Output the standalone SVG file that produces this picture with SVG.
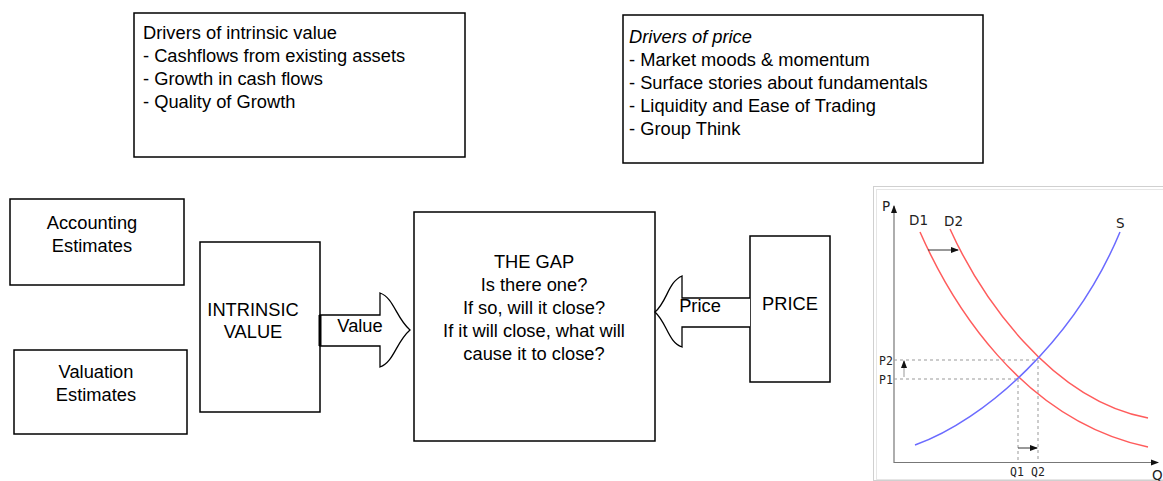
<svg xmlns="http://www.w3.org/2000/svg" width="1163" height="481" viewBox="0 0 1163 481">
<style>
.box{fill:#fff;stroke:#000;stroke-width:1.5}
.t{font-family:"Liberation Sans",Arial,sans-serif;font-size:18.3px;fill:#000}
.c{text-anchor:middle}
.arr{fill:#fff;stroke:#000;stroke-width:1.3}
.lbl{font-family:"DejaVu Sans",sans-serif;font-size:13.5px;fill:#222}
.sm{font-family:"DejaVu Sans Mono","DejaVu Sans",monospace;font-size:11.5px;fill:#222}
.dash{stroke:#999;stroke-width:1;stroke-dasharray:3,3;fill:none}
.dem{fill:none;stroke:#ff5c5c;stroke-width:1.5}
.sup{fill:none;stroke:#6b6bff;stroke-width:1.5}
.ax{stroke:#777;stroke-width:1.2;fill:none}
</style>
<defs>
<marker id="ah" markerWidth="8" markerHeight="8" refX="7" refY="4" orient="auto" markerUnits="userSpaceOnUse">
<path d="M0,1 L8,4 L0,7 Z" fill="#111"/>
</marker>
</defs>
<rect width="1163" height="481" fill="#fff"/>

<g id="drivers-value">
<rect class="box" x="134" y="13" width="331" height="144"/>
<text class="t" x="143" y="39">Drivers of intrinsic value</text>
<text class="t" x="143" y="62">- Cashflows from existing assets</text>
<text class="t" x="143" y="85">- Growth in cash flows</text>
<text class="t" x="143" y="108">- Quality of Growth</text>
</g>

<g id="drivers-price">
<rect class="box" x="623" y="15" width="360" height="148"/>
<text class="t" x="629" y="43" font-style="italic">Drivers of price</text>
<text class="t" x="629" y="66">- Market moods &amp; momentum</text>
<text class="t" x="629" y="89">- Surface stories about fundamentals</text>
<text class="t" x="629" y="112">- Liquidity and Ease of Trading</text>
<text class="t" x="629" y="135">- Group Think</text>
</g>

<g id="accounting">
<rect class="box" x="10" y="199" width="174" height="86"/>
<text class="t c" x="92" y="229">Accounting</text>
<text class="t c" x="92" y="252">Estimates</text>
</g>

<g id="valuation">
<rect class="box" x="14" y="350" width="173" height="84"/>
<text class="t c" x="96" y="378">Valuation</text>
<text class="t c" x="96" y="401">Estimates</text>
</g>

<g id="intrinsic">
<rect class="box" x="200" y="242" width="120" height="170"/>
<text class="t c" x="253" y="316" font-size="17.5">INTRINSIC</text>
<text class="t c" x="253" y="338" font-size="17.5">VALUE</text>
</g>

<g id="gap">
<rect class="box" x="414" y="212" width="241" height="229"/>
<text class="t c" x="534" y="268">THE GAP</text>
<text class="t c" x="534" y="291">Is there one?</text>
<text class="t c" x="534" y="314">If so, will it close?</text>
<text class="t c" x="534" y="337">If it will close, what will</text>
<text class="t c" x="534" y="360">cause it to close?</text>
</g>

<g id="price">
<rect class="box" x="750" y="236" width="80" height="146"/>
<text class="t c" x="790" y="310">PRICE</text>
</g>

<g id="connectors">
<path class="arr" d="M320,315 L380,315 L380,293 C394,298 396,318 410,330 C396,342 394,362 380,367 L380,346 L320,346 Z"/>
<line x1="320" y1="315" x2="320" y2="346" stroke="#000" stroke-width="3"/>
<text class="t c" x="360" y="332">Value</text>
<path class="arr" d="M750,298 L682,298 L682,276 C668,282 667,302 655,312 C667,323 668,342 682,347 L682,327 L750,327"/>
<text class="t c" x="700" y="312">Price</text>
</g>

<g id="chart">
<rect x="873.5" y="186.5" width="300" height="294" fill="#fff" stroke="#d0d0d0" stroke-width="1"/>
<rect x="876.5" y="189.5" width="300" height="290" fill="none" stroke="#e6e6e6" stroke-width="1"/>
<line class="ax" x1="894" y1="463" x2="894" y2="206" marker-end="url(#ah)"/>
<line class="ax" x1="894" y1="462.5" x2="1158" y2="462.5" marker-end="url(#ah)"/>
<path class="dash" d="M894,360 H1038 M894,379 H1018 M1018,379 V462 M1038,360 V462"/>
<path class="dem" d="M920,232 C950,300 1020,420 1148,447"/>
<path class="dem" d="M950,229 C980,295 1050,400 1148,418"/>
<path class="sup" d="M915,445 C985,420 1075,340 1120,232"/>
<line x1="928" y1="250" x2="958" y2="250" stroke="#333" stroke-width="1" marker-end="url(#ah)"/>
<line x1="904" y1="377" x2="904" y2="361" stroke="#999" stroke-width="1" marker-end="url(#ah)"/>
<line x1="1018" y1="448" x2="1037" y2="448" stroke="#333" stroke-width="1" marker-end="url(#ah)"/>
<text class="lbl" x="882" y="211">P</text>
<text class="lbl" x="909" y="225">D1</text>
<text class="lbl" x="944" y="226">D2</text>
<text class="lbl" x="1116" y="228">S</text>
<text class="lbl" x="1152" y="480">Q</text>
<text class="sm" x="879" y="365">P2</text>
<text class="sm" x="879" y="384">P1</text>
<text class="sm" x="1010" y="476">Q1</text>
<text class="sm" x="1031" y="476">Q2</text>
</g>
</svg>
